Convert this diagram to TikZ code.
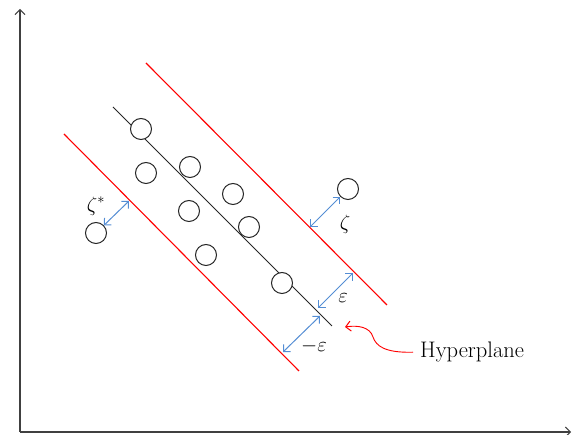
\documentclass[tikz,border=0pt]{standalone}
\usepackage{amsfonts,amssymb}
\usepackage{tikz}
\usetikzlibrary{arrows.meta}

\definecolor{gapblue}{RGB}{84,141,212}
\tikzset{
  barb/.tip={Straight Barb[length=5pt,width=10pt,line width=1pt]},
  dot/.style={draw=black!85,circle,fill=white,inner sep=0pt,minimum size=21pt,line width=1pt},
  border/.style={red,line width=1.1pt},
  gap/.style={barb-barb,gapblue,line width=1pt},
  lab/.style={inner sep=0pt,font=\fontsize{21}{24}\selectfont}
}

\begin{document}
\begin{tikzpicture}[x=1pt,y=-1pt]
\useasboundingbox (0,0) rectangle (574,435);
\draw [-barb,black!75,line width=1.1pt] (20,432) -- (20,9);
\draw [-barb,black!75,line width=1.1pt] (20,432) -- (571,432);
\draw [border] (146,63) -- (387,305);
\draw [border] (64,134) -- (299,371);
\draw [black!85,line width=1pt] (113,107) -- (332,326);
\node [dot] (o1) at (96,233) {};
\node [dot] (o2) at (348,189) {};
\node [dot] (p1) at (141,129) {};
\node [dot] (p2) at (146,173) {};
\node [dot] (p3) at (190,167) {};
\node [dot] (p4) at (189,211) {};
\node [dot] (p5) at (233,194) {};
\node [dot] (p6) at (249,227) {};
\node [dot] (p7) at (206,255) {};
\node [dot] (p8) at (282,283) {};
\coordinate (s1) at (129,201);
\coordinate (s2) at (310,227);
\coordinate (e1) at (318,308);
\coordinate (e2) at (353,273);
\coordinate (m1) at (283,352);
\coordinate (m2) at (320,316);
\draw [gap] (o1) -- (s1);
\draw [gap] (s2) -- (o2);
\draw [gap] (e1) -- (e2);
\draw [gap] (m1) -- (m2);
\node [lab] (zs) at (96,206) {$\zeta^{*}$};
\node [lab] (z) at (345,224) {$\zeta$};
\node [lab] (eps) at (343,298) {$\varepsilon$};
\node [lab] (meps) at (314,346) {$-\varepsilon$};
\node [lab,anchor=west,font=\fontsize{22.5}{26}\selectfont] (hyp) at (420,352) {Hyperplane};
\coordinate (h) at (345,327);
\draw [-barb,red,line width=0.9pt,shorten <=7pt] (hyp.west) .. controls (385,353) and (376,346) .. (373,337) .. controls (370,327) and (358,325) .. (h);
\end{tikzpicture}
\end{document}
